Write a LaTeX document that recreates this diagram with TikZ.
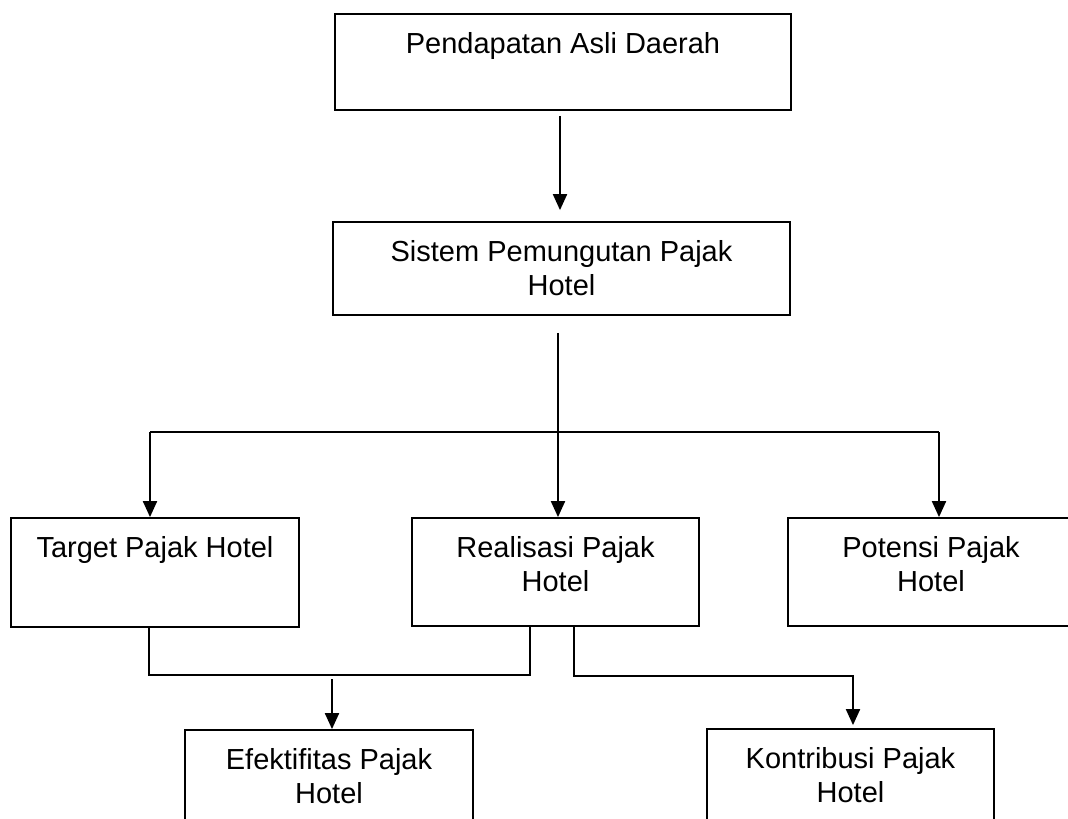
\documentclass[tikz,border=0pt]{standalone}
\usepackage{fontspec}
\setmainfont{Liberation Sans}
\usetikzlibrary{arrows.meta}

\tikzset{
  kotak/.style={draw, line width=1.8pt, inner sep=0pt},
  teks/.style={anchor=north, yshift=-19pt, align=center, inner sep=0pt,
    font=\fontsize{29}{34}\selectfont},
  garis/.style={line width=2pt},
  panah/.style={garis, -{Triangle[width=14pt,length=16pt]}}
}

\begin{document}
\begin{tikzpicture}[x=1pt, y=-1pt]
        \useasboundingbox (0,0) rectangle (1068,819);
        \clip (0,0) rectangle (1068,819);

        % Kotak atas
        \node[kotak, minimum width=456pt, minimum height=96pt,
          label={[teks]north:Pendapatan Asli Daerah}] (pad) at (563,62) {};
        \node[kotak, minimum width=457pt, minimum height=93pt,
          label={[teks]north:{Sistem Pemungutan Pajak\\Hotel}}] (sistem) at (561.5,268.5) {};

        % Kotak tengah
        \node[kotak, minimum width=288pt, minimum height=109pt,
          label={[teks]north:Target Pajak Hotel}] (target) at (155,572.5) {};
        \node[kotak, minimum width=287pt, minimum height=108pt,
          label={[teks]north:{Realisasi Pajak\\Hotel}}] (realisasi) at (555.5,572) {};
        \node[kotak, minimum width=286pt, minimum height=108pt,
          label={[teks]north:{Potensi Pajak\\Hotel}}] (potensi) at (931,572) {};

        % Kotak bawah
        \node[kotak, minimum width=288pt, minimum height=110pt,
          label={[teks]north:{Efektifitas Pajak\\Hotel}}] (efektif) at (329,785) {};
        \node[kotak, minimum width=287pt, minimum height=110pt,
          label={[teks]north:{Kontribusi Pajak\\Hotel}}] (kontribusi) at (850.5,784) {};

        % Titik bantu
        \coordinate (cabang) at (558,432);
        \coordinate (kiri) at (150,432);
        \coordinate (kanan) at (939,432);
        \coordinate (gabung) at (530,675);
        \coordinate (belok) at (853,676);

        % Panah atas
        \draw[panah] ([xshift=-3pt,yshift=-5pt]pad.south) -- ([xshift=-1.5pt,yshift=11pt]sistem.north);
        \draw[garis] ([xshift=-3.5pt,yshift=-17pt]sistem.south) -- (cabang);
        \draw[garis] (kiri) -- (kanan);
        \draw[panah] (kiri) -- (kiri |- target.north);
        \draw[panah] (cabang) -- (cabang |- realisasi.north);
        \draw[panah] (kanan) -- (kanan |- potensi.north);

        % Panah bawah
        \draw[garis] ([xshift=-6pt]target.south) |- (gabung) -- (gabung |- realisasi.south);
        \draw[panah] ([xshift=3pt,yshift=50pt]efektif.north) -- ([xshift=3pt]efektif.north);
        \draw[panah] ([xshift=18.5pt]realisasi.south) |- (belok) -- ([xshift=2.5pt,yshift=3pt]kontribusi.north);
\end{tikzpicture}
\end{document}
